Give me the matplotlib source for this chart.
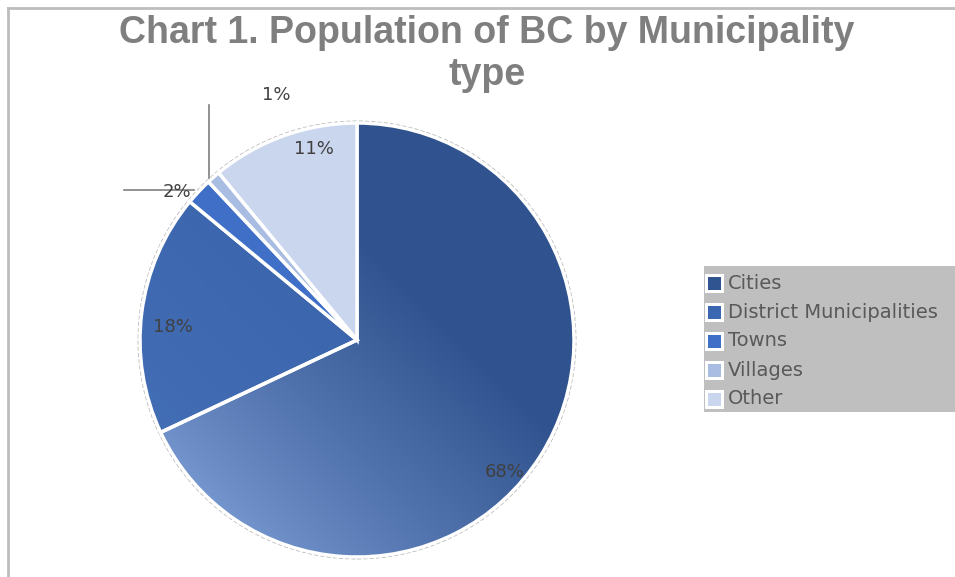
import numpy as np
import matplotlib.pyplot as plt
from matplotlib.colors import to_rgb
from matplotlib.patches import Circle, Rectangle
from matplotlib.lines import Line2D

# data
categories = ['Cities', 'District Municipalities', 'Towns', 'Villages', 'Other']
shares = [68, 18, 2, 1, 11]
pct_labels = ['68%', '18%', '2%', '1%', '11%']

colors = ['#30548f', '#3b66b0', '#3f6fc6', '#a9bde3', '#c9d6ee']

W, H = 955, 577
fig = plt.figure(figsize=(W / 100, H / 100), dpi=100)

# pie centre / radius in pixels
cx, cy, R = 357, 340, 217
L = 1.25
ax = fig.add_axes([(cx - R * L) / W, (H - cy - R * L) / H, 2 * R * L / W, 2 * R * L / H])
ax.axis('off')

wedges, _ = ax.pie(shares, colors=colors, startangle=90, counterclock=False,
                   wedgeprops=dict(edgecolor='white', linewidth=2.5))

# gradient fill on the big slices (light bottom-left -> dark upper-right)
yy, xx = np.mgrid[-1:1:400j, -1:1:400j]
t = np.clip((xx + yy + 1.5) / 2.0, 0, 1) ** 0.8
grad_specs = {0: ('#7b9bd3', '#30538f'), 1: ('#4470b8', '#3a63aa')}
for i, (c0, c1) in grad_specs.items():
    a, b = np.array(to_rgb(c0)), np.array(to_rgb(c1))
    img = a * (1 - t[..., None]) + b * t[..., None]
    im = ax.imshow(img, extent=(-1, 1, -1, 1), origin='lower', zorder=wedges[i].get_zorder() - 0.1)
    im.set_clip_path(wedges[i])
    wedges[i].set_facecolor('none')

ax.add_patch(Circle((0, 0), 1.008, fill=False, ec='#b5b5b5', lw=1, ls=(0, (3, 1.5)), zorder=0))
ax.set_xlim(-L, L)
ax.set_ylim(-L, L)

# data labels (Excel placement)
label_pos = [(0.68, -0.608), (-0.85, 0.06), (-0.83, 0.68), (-0.37, 1.13), (-0.2, 0.88)]
for txt, (x, y) in zip(pct_labels, label_pos):
    ax.text(x, y, txt, ha='center', va='center', fontsize=13, color='#404040',
            family='DejaVu Sans', zorder=10)

# leader lines for the two small slices
ax.add_line(Line2D([-1.074, -0.75], [0.691, 0.691], color='#7f7f7f', lw=1.2, zorder=9))
ax.add_line(Line2D([-0.682, -0.682], [1.083, 0.747], color='#7f7f7f', lw=1.2, zorder=9))

# title
for txt, ypx in [('Chart 1. Population of BC by Municipality', 33), ('type', 75)]:
    fig.text(487 / W, 1 - ypx / H, txt, ha='center', va='center',
             fontsize=27, fontweight='bold', color='#7f7f7f', family='Liberation Sans')

# legend box
fig.patches.append(Rectangle((704 / W, 1 - 412 / H), (W - 704) / W, 146 / H,
                             transform=fig.transFigure, fc='#bfbfbf', ec='none'))
for i, (name, col) in enumerate(zip(categories, colors)):
    yc = 1 - (283 + i * 29) / H
    fig.patches.append(Rectangle((705 / W, yc - 10 / H), 19 / W, 19 / H,
                                 transform=fig.transFigure, fc='white', ec='none'))
    fig.patches.append(Rectangle((708 / W, yc - 7 / H), 13 / W, 13 / H,
                                 transform=fig.transFigure, fc=col, ec='none'))
    fig.text(728 / W, yc, name, ha='left', va='center', fontsize=14,
             color='#595959', family='DejaVu Sans')

# outer chart border (top and left visible)
fig.add_artist(Line2D([8 / W, 1], [1 - 8 / H, 1 - 8 / H], color='#bdbdbd', lw=2, transform=fig.transFigure))
fig.add_artist(Line2D([8 / W, 8 / W], [1 - 8 / H, 0], color='#bdbdbd', lw=2, transform=fig.transFigure))

fig.savefig('out.png', dpi=100)
